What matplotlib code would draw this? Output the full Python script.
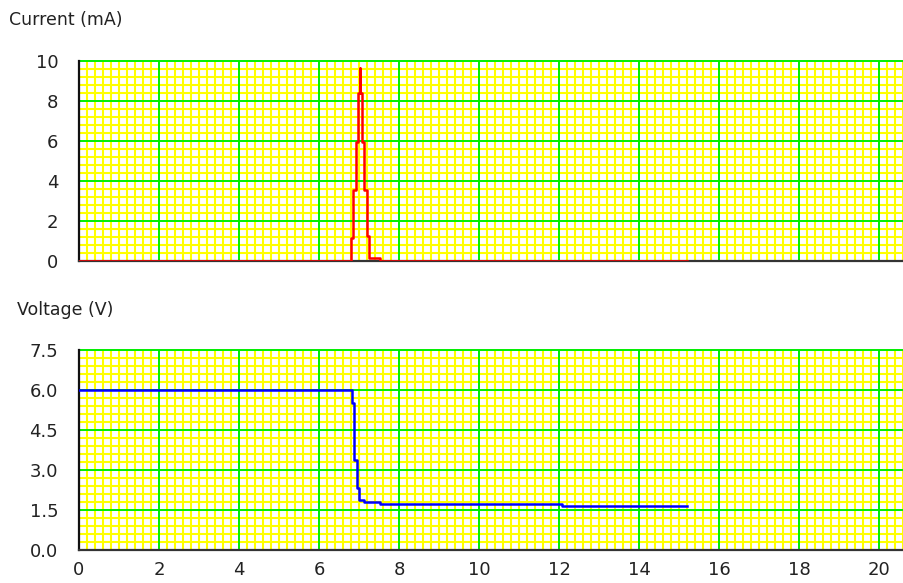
import numpy as np
import matplotlib
matplotlib.use('Agg')
import matplotlib.pyplot as plt
from matplotlib.ticker import FixedLocator

t_current = [0.0, 6.80, 6.858, 6.917, 6.967, 7.025, 7.026, 7.083, 7.133, 7.192, 7.242, 7.525, 15.19]
current_mA = [0.0, 1.17, 3.55, 5.93, 8.38, 9.63, 8.38, 5.93, 3.55, 1.25, 0.15, 0.0, 0.0]

t_voltage = [0.0, 6.817, 6.875, 6.94, 7.0, 7.125, 7.525, 12.08, 15.19]
voltage_V = [6.0, 5.5, 3.38, 2.31, 1.875, 1.81, 1.725, 1.655, 1.655]

x_ticks = [0, 2, 4, 6, 8, 10, 12, 14, 16, 18, 20]
cur_ticks = [0, 2, 4, 6, 8, 10]
volt_ticks = [0.0, 1.5, 3.0, 4.5, 6.0, 7.5]

plt.rcParams['font.family'] = ['DejaVu Sans']
W, H = 904, 583
fig = plt.figure(figsize=(W / 100, H / 100), dpi=100)

left = 79 / W
xmax = 825 / 40
ax1 = fig.add_axes([left, 1 - 261 / H, 1 - left, 200 / H])
ax2 = fig.add_axes([left, 1 - 550 / H, 1 - left, 200 / H])


def minor_positions(lo, hi, step, majors):
    pos = np.round(np.arange(lo, hi + step / 2, step), 6)
    return [p for p in pos if not np.any(np.isclose(p, majors))]


def style(ax, yticks, yminor, fmt):
    ax.set_xlim(0, xmax)
    ax.set_ylim(yticks[0], yticks[-1])
    ax.set_xticks(x_ticks)
    ax.xaxis.set_minor_locator(FixedLocator(minor_positions(0, xmax, 0.2, x_ticks)))
    ax.set_yticks(yticks)
    ax.set_yticklabels([fmt.format(v) for v in yticks])
    ax.yaxis.set_minor_locator(FixedLocator(minor_positions(yticks[0], yticks[-1], yminor, yticks)))
    # yellow minor grid underneath, green major lines drawn on top of it
    ax.grid(which='minor', color='#ffff00', lw=1.5)
    ax.set_axisbelow(True)
    for x in x_ticks:
        ax.axvline(x, color='#00ee00', lw=1.4, zorder=1)
    for y in yticks:
        ax.axhline(y, color='#00ee00', lw=1.4, zorder=1, clip_on=False)
    ax.tick_params(which='both', length=0)
    ax.tick_params(axis='y', pad=15, labelsize=13, labelcolor='#222222')
    ax.tick_params(axis='x', pad=8, labelsize=13, labelcolor='#222222')
    for s in ['top', 'right']:
        ax.spines[s].set_visible(False)
    ax.spines['left'].set_linewidth(1.6)
    ax.spines['bottom'].set_linewidth(1.6)
    ax.spines['left'].set_color('#111111')
    ax.spines['bottom'].set_color('#333333')


style(ax1, cur_ticks, 0.4, '{:g}')
style(ax2, volt_ticks, 0.3, '{:.1f}')
ax1.tick_params(axis='x', labelbottom=False)

ax1.plot(t_current, current_mA, color='#ff0000', lw=1.8, drawstyle='steps-post', zorder=3)
ax2.plot(t_voltage, voltage_V, color='#0000ff', lw=1.8, drawstyle='steps-post', zorder=3)

fig.text(9 / W, 1 - 20 / H, 'Current (mA)', fontsize=12.5, va='center', ha='left', color='#222222')
fig.text(17 / W, 1 - 310 / H, 'Voltage (V)', fontsize=12.5, va='center', ha='left', color='#222222')

fig.savefig('out.png', dpi=100)
